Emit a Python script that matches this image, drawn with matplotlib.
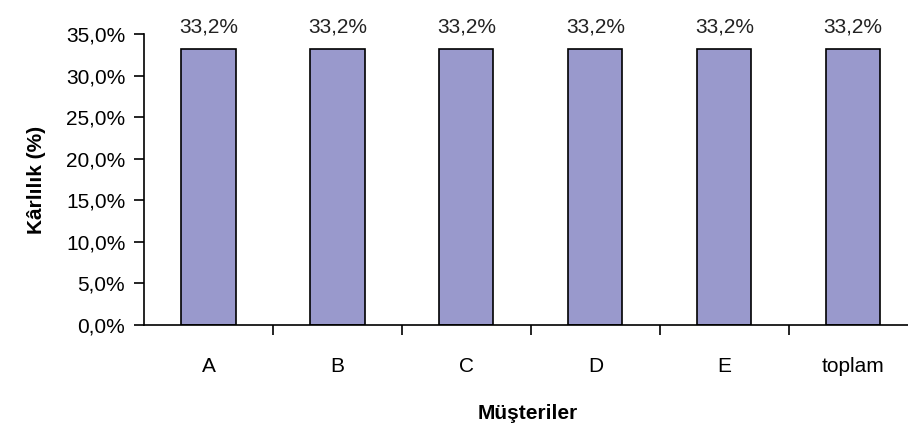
import matplotlib.pyplot as plt
from matplotlib.ticker import FuncFormatter, FixedLocator
import numpy as np

# chart data
customers = ['A', 'B', 'C', 'D', 'E', 'toplam']
profit = [33.2, 33.2, 33.2, 33.2, 33.2, 33.2]
y_ticks = [0, 5, 10, 15, 20, 25, 30, 35]

plt.rcParams['font.family'] = ['Liberation Sans', 'DejaVu Sans']
fs = 15

fig = plt.figure(figsize=(9.08, 4.26), dpi=100)
ax = fig.add_axes([0.1586, 0.237, 0.845, 0.683])

x = np.arange(len(customers))
bars = ax.bar(x, profit, width=0.42, color='#9999cc', edgecolor='black', linewidth=1.2)

# value labels above bars
for b, v in zip(bars, profit):
    ax.annotate(f'{v:.1f}%'.replace('.', ','), (b.get_x() + b.get_width() / 2, v),
                xytext=(0, 9), textcoords='offset points', ha='center', va='bottom',
                fontsize=fs, color='#222222')

ax.set_ylim(0, 35)
ax.set_xlim(-0.5, 5.45)
ax.set_yticks(y_ticks)
ax.yaxis.set_major_formatter(FuncFormatter(lambda v, p: f'{v:.1f}%'.replace('.', ',')))

# category labels without ticks, tick marks between categories
ax.set_xticks(x)
ax.set_xticklabels(customers)
ax.xaxis.set_minor_locator(FixedLocator(x[:-1] + 0.5))
ax.tick_params(axis='x', which='major', length=0, pad=23, labelsize=fs)
ax.tick_params(axis='x', which='minor', length=7, width=1.2, direction='out')
ax.tick_params(axis='y', length=7.5, width=1.2, direction='out', labelsize=fs, pad=6)

for side in ['top', 'right']:
    ax.spines[side].set_visible(False)
for side in ['left', 'bottom']:
    ax.spines[side].set_linewidth(1.2)

ax.set_ylabel('Kârlılık (%)', fontweight='bold', fontsize=fs, labelpad=14)
ax.set_xlabel('Müşteriler', fontweight='bold', fontsize=fs, labelpad=20)

fig.savefig('out.png', dpi=100)
